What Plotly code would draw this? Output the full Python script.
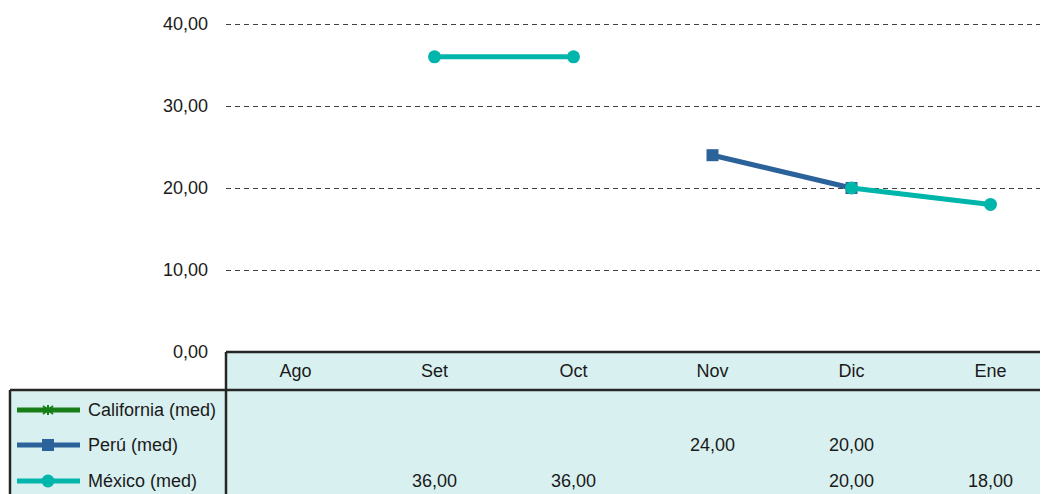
import plotly.graph_objects as go

categories = ["Ago", "Set", "Oct", "Nov", "Dic", "Ene"]
series_names = ["California (med)", "Perú (med)", "México (med)"]
california = [None, None, None, None, None, None]
peru = [None, None, None, 24.0, 20.0, None]
mexico = [None, 36.0, 36.0, None, 20.0, 18.0]
y_ticks = [0, 10, 20, 30, 40]

colors = ["#177d17", "#2b6299", "#00b5aa"]
symbols = ["asterisk-open", "square", "circle"]

# the page body adds an 8px margin: work in reference-page pixels, then shift
OFF = 8
W, H = 1048 - OFF, 494 - OFF
L, R, T, B = 226 - OFF, 0, 0, 494 - 352
PW, PH = W - L - R, H - T - B

def pxx(x):
    return (x - OFF - L) / PW

def pyy(y):
    return (H - B - (y - OFF)) / PH

fig = go.Figure()
for name, vals, col, sym in zip(series_names, [california, peru, mexico], colors, symbols):
    fig.add_trace(go.Scatter(
        x=categories, y=vals, name=name, mode="lines+markers",
        line=dict(color=col, width=5),
        marker=dict(symbol=sym, size=12 if sym != "circle" else 13, color=col,
                    line=dict(width=0, color=col)),
        connectgaps=False, showlegend=False, cliponaxis=False,
    ))

TBL = "#d9f0f0"
BORDER = "#262626"
shapes = []
shapes.append(dict(type="rect", xref="paper", yref="paper", x0=pxx(226), x1=pxx(1060),
                   y0=pyy(500), y1=pyy(352), fillcolor=TBL, line=dict(width=0), layer="below"))
shapes.append(dict(type="rect", xref="paper", yref="paper", x0=pxx(10), x1=pxx(226),
                   y0=pyy(500), y1=pyy(390), fillcolor=TBL, line=dict(width=0), layer="below"))
for (x0, y0, x1, y1) in [(226, 352, 1060, 352), (226, 352, 226, 500), (10, 390, 1060, 390), (10, 390, 10, 500)]:
    shapes.append(dict(type="line", xref="paper", yref="paper", x0=pxx(x0), x1=pxx(x1),
                       y0=pyy(y0), y1=pyy(y1), line=dict(color=BORDER, width=2.5)))

annotations = []
row_y = [410, 445, 481]
for i, (name, col) in enumerate(zip(series_names, colors)):
    yy = row_y[i]
    shapes.append(dict(type="line", xref="paper", yref="paper", x0=pxx(17), x1=pxx(80),
                       y0=pyy(yy), y1=pyy(yy), line=dict(color=col, width=5)))
    if i == 0:
        for (a, b, c, d) in [(43, yy - 4, 53, yy + 4), (43, yy + 4, 53, yy - 4), (48, yy - 5, 48, yy + 5)]:
            shapes.append(dict(type="line", xref="paper", yref="paper", x0=pxx(a), x1=pxx(c),
                               y0=pyy(b), y1=pyy(d), line=dict(color=col, width=2)))
    elif i == 1:
        shapes.append(dict(type="rect", xref="paper", yref="paper", x0=pxx(42), x1=pxx(54),
                           y0=pyy(yy + 6), y1=pyy(yy - 6), fillcolor=col, line=dict(width=0)))
    else:
        shapes.append(dict(type="circle", xref="paper", yref="paper", x0=pxx(41.5), x1=pxx(54.5),
                           y0=pyy(yy + 6.5), y1=pyy(yy - 6.5), fillcolor=col, line=dict(width=0)))
    annotations.append(dict(text=name, xref="paper", yref="paper", x=pxx(86), y=pyy(yy),
                            xanchor="left", yanchor="middle", showarrow=False,
                            font=dict(size=18, color="#1a1a1a")))

for i, vals in enumerate([california, peru, mexico]):
    for c, v in zip(categories, vals):
        if v is None:
            continue
        annotations.append(dict(text=f"{v:.2f}".replace(".", ","), xref="x", yref="paper",
                                x=c, y=pyy(row_y[i]), xanchor="center", yanchor="middle",
                                showarrow=False, font=dict(size=18, color="#1a1a1a")))

fig.update_layout(
    width=W, height=H,
    margin=dict(l=L, r=R, t=T, b=B, pad=0),
    paper_bgcolor="white", plot_bgcolor="white",
    font=dict(family="Liberation Sans, Arial, sans-serif", size=18, color="#1a1a1a"),
    separators=",.",
    xaxis=dict(type="category", categoryorder="array", categoryarray=categories,
               range=[-0.5, -0.5 + PW / 139], showgrid=False, zeroline=False, showline=False,
               ticks="", tickfont=dict(size=18), ticklabelstandoff=6, fixedrange=True),
    yaxis=dict(range=[0, PH / 8.2], tickvals=y_ticks, tickformat=".2f", showgrid=True,
               gridcolor="#404040", gridwidth=1, griddash="5px,4px", zeroline=False,
               showline=False, ticks="", ticklabelstandoff=17, tickfont=dict(size=18)),
    shapes=shapes, annotations=annotations,
)

fig.write_html("out.html")
